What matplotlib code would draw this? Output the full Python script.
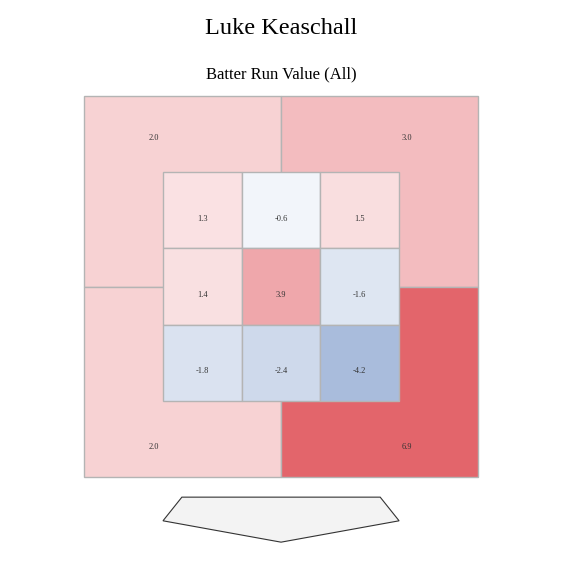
import numpy as np
import matplotlib
matplotlib.use("Agg")
from matplotlib import pyplot as plt
from matplotlib.patches import Rectangle, Polygon
from matplotlib.colors import LinearSegmentedColormap, Normalize

# data
player = "Luke Keaschall"
subtitle = "Batter Run Value (All)"
# inner 3x3 zone, rows top to bottom
inner_vals = [[1.3, -0.6, 1.5],
              [1.4, 3.9, -1.6],
              [-1.8, -2.4, -4.2]]
# outer quadrants: top-left, top-right, bottom-left, bottom-right
outer_vals = [2.0, 3.0, 2.0, 6.9]

# colour scale, white at zero
cmap = LinearSegmentedColormap.from_list("rv", ["#7291c6", "#ffffff", "#e3656b"])
norm = Normalize(vmin=-6.9, vmax=6.9)
edge = "#b4b4b4"

fig = plt.figure(figsize=(5.62, 5.62), dpi=100)
ax = fig.add_axes([0, 0, 1, 1])
ax.set_xlim(-2.071, 5.07)
ax.set_ylim(-2.110, 5.256)
ax.axis("off")

# outer quadrants (zone is 0..3, outer ring extends 1 unit)
quads = [(-1, 1.5), (1.5, 1.5), (-1, -1), (1.5, -1)]
lbl = [(-0.11, 3.45), (3.1, 3.45), (-0.11, -0.6), (3.1, -0.6)]
for (x0, y0), v, (lx, ly) in zip(quads, outer_vals, lbl):
    ax.add_patch(Rectangle((x0, y0), 2.5, 2.5, facecolor=cmap(norm(v)),
                           edgecolor=edge, lw=1))
    ax.text(lx, ly, "%.1f" % v, ha="center", va="center", fontsize=6,
            family="Liberation Serif", color="#333333")

# inner cells
for r in range(3):
    for c in range(3):
        v = inner_vals[r][c]
        y0 = 2 - r
        ax.add_patch(Rectangle((c, y0), 1, 1, facecolor=cmap(norm(v)),
                               edgecolor=edge, lw=1))
        ax.text(c + 0.5, y0 + 0.39, "%.1f" % v, ha="center", va="center",
                fontsize=6, family="Liberation Serif", color="#333333")

# home plate
plate = Polygon([(0.24, -1.26), (2.76, -1.26), (3.0, -1.57), (1.5, -1.85), (0.0, -1.57)],
                closed=True, facecolor="#f3f3f3", edgecolor="#333333", lw=0.8)
ax.add_patch(plate)

fig.text(0.5, 1 - 28 / 562, player, ha="center", va="center", fontsize=17.5,
         family="Liberation Serif")
fig.text(0.5, 1 - 74 / 562, subtitle, ha="center", va="center", fontsize=12,
         family="Liberation Serif")

fig.savefig("out.png", dpi=100)
